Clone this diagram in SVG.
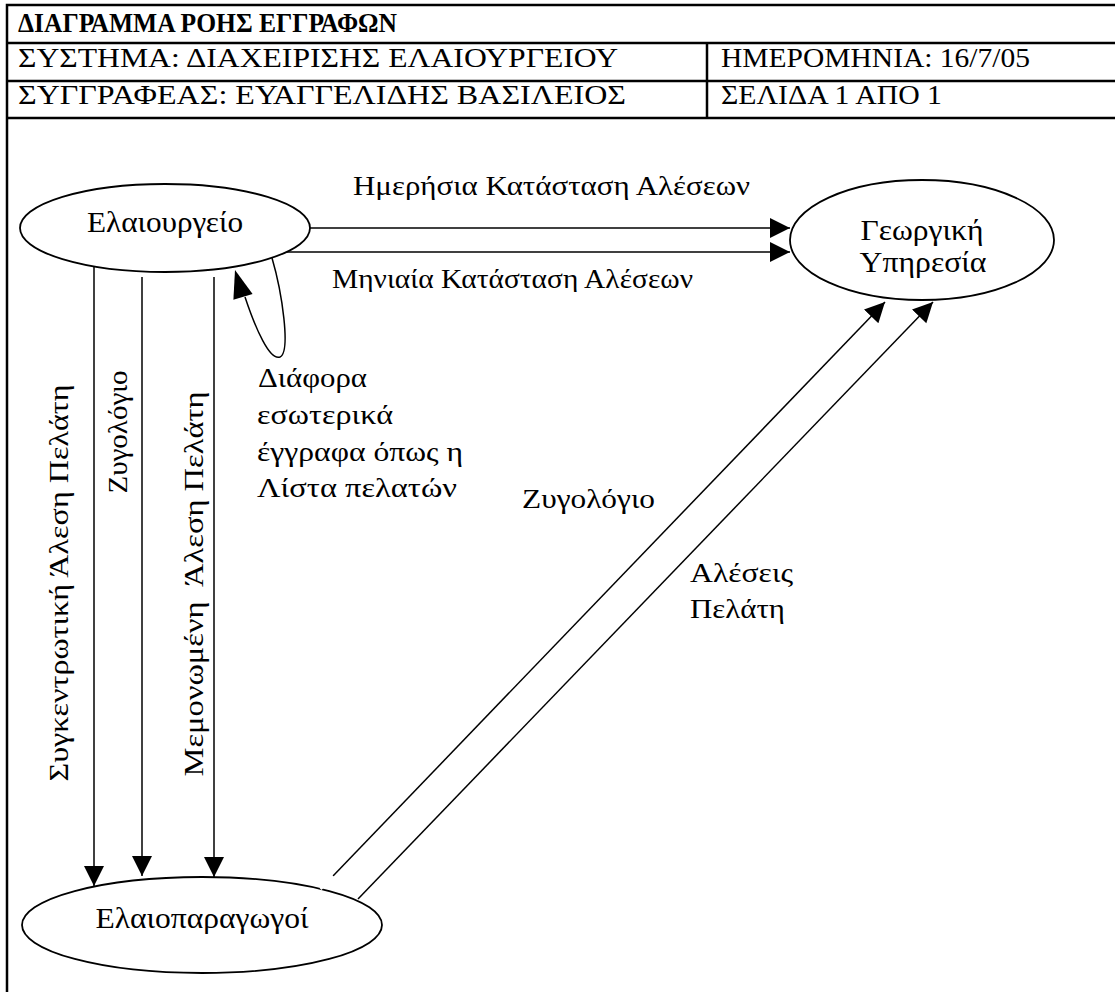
<svg xmlns="http://www.w3.org/2000/svg" width="1115" height="992" viewBox="0 0 1115 992">
  <style>
    text { font-family: "Liberation Serif", "Times New Roman", serif; fill: #000; }
    .ttl { font-size: 27px; font-weight: bold; }
    .hd { font-size: 27px; }
    .lbl { font-size: 27px; }
    .nd { font-size: 30px; }
    .frame { stroke: #000; stroke-width: 2.5; fill: none; }
    .node ellipse { fill: #fff; stroke: #000; stroke-width: 1.8; }
    .edge { stroke: #000; stroke-width: 1.5; fill: none; }
  </style>
  <defs>
    <marker id="arrow" markerUnits="userSpaceOnUse" markerWidth="21" markerHeight="21" refX="20" refY="10" orient="auto">
      <path d="M0,0 L20,10 L0,20 z" fill="#000"/>
    </marker>
    <clipPath id="clipTop"><rect x="300" y="150" width="500" height="50"/></clipPath>
    <clipPath id="clipBottom"><rect x="300" y="250" width="500" height="42"/></clipPath>
  </defs>

  <rect width="1115" height="992" fill="#fff"/>

  <!-- header table -->
  <g id="header">
    <path class="frame" d="M7,992 V5 H1115 M7,43 H1115 M7,81 H1115 M7,118 H1115 M707,43 V118"/>
    <text class="ttl" x="18" y="32" textLength="379" lengthAdjust="spacingAndGlyphs">ΔΙΑΓΡΑΜΜΑ ΡΟΗΣ ΕΓΓΡΑΦΩΝ</text>
    <text class="hd" x="18" y="67" textLength="600" lengthAdjust="spacingAndGlyphs">ΣΥΣΤΗΜΑ: ΔΙΑΧΕΙΡΙΣΗΣ ΕΛΑΙΟΥΡΓΕΙΟΥ</text>
    <text class="hd" x="18" y="104" textLength="608" lengthAdjust="spacingAndGlyphs">ΣΥΓΓΡΑΦΕΑΣ: ΕΥΑΓΓΕΛΙΔΗΣ ΒΑΣΙΛΕΙΟΣ</text>
    <text class="hd" x="721" y="67" textLength="309" lengthAdjust="spacingAndGlyphs">ΗΜΕΡΟΜΗΝΙΑ: 16/7/05</text>
    <text class="hd" x="721" y="104" textLength="221" lengthAdjust="spacingAndGlyphs">ΣΕΛΙΔΑ 1 ΑΠΟ 1</text>
  </g>

  <!-- connectors -->
  <g id="connectors">
    <!-- Ελαιουργείο to Γεωργική Υπηρεσία -->
    <line class="edge" x1="310" y1="228" x2="790" y2="228" marker-end="url(#arrow)"/>
    <line class="edge" x1="287" y1="252" x2="790" y2="252" marker-end="url(#arrow)"/>
    <text class="lbl" x="353" y="195" textLength="397" lengthAdjust="spacingAndGlyphs" clip-path="url(#clipTop)">Ημερήσια Κατάσταση Αλέσεων</text>
    <text class="lbl" x="332" y="288" textLength="361" lengthAdjust="spacingAndGlyphs" clip-path="url(#clipBottom)">Μηνιαία Κατάσταση Αλέσεων</text>

    <!-- Ελαιουργείο to itself -->
    <path class="edge" d="M272,258 C282,292 291,352 280,357 C270,361 256,330 245,297"/>
    <polygon points="235,270 252.6,294 233.4,299.7" fill="#000"/>
    <text class="lbl" x="258" y="387" textLength="109" lengthAdjust="spacingAndGlyphs">Διάφορα</text>
    <text class="lbl" x="257" y="424" textLength="136" lengthAdjust="spacingAndGlyphs">εσωτερικά</text>
    <text class="lbl" x="257" y="461" textLength="206" lengthAdjust="spacingAndGlyphs">έγγραφα όπως η</text>
    <text class="lbl" x="257" y="497" textLength="200" lengthAdjust="spacingAndGlyphs">Λίστα πελατών</text>

    <!-- Ελαιουργείο to Ελαιοπαραγωγοί -->
    <line class="edge" x1="94" y1="265" x2="94" y2="886" marker-end="url(#arrow)"/>
    <line class="edge" x1="142" y1="277" x2="142" y2="876" marker-end="url(#arrow)"/>
    <line class="edge" x1="214" y1="277" x2="214" y2="877" marker-end="url(#arrow)"/>
    <text class="lbl" text-anchor="middle" transform="translate(68,583) rotate(-90)" textLength="397" lengthAdjust="spacingAndGlyphs">Συγκεντρωτική Άλεση Πελάτη</text>
    <text class="lbl" text-anchor="middle" transform="translate(127,432) rotate(-90)" textLength="123" lengthAdjust="spacingAndGlyphs">Ζυγολόγιο</text>
    <text class="lbl" text-anchor="middle" transform="translate(203,584) rotate(-90)" textLength="385" lengthAdjust="spacingAndGlyphs" xml:space="preserve">Μεμονωμένη  Άλεση Πελάτη</text>

    <!-- Ελαιοπαραγωγοί to Γεωργική Υπηρεσία -->
    <line class="edge" x1="333" y1="876" x2="885" y2="302" marker-end="url(#arrow)"/>
    <line class="edge" x1="358" y1="899" x2="933" y2="302" marker-end="url(#arrow)"/>
    <text class="lbl" x="522" y="508" textLength="133" lengthAdjust="spacingAndGlyphs">Ζυγολόγιο</text>
    <text class="lbl" x="690" y="582" textLength="103" lengthAdjust="spacingAndGlyphs">Αλέσεις</text>
    <text class="lbl" x="690" y="618" textLength="95" lengthAdjust="spacingAndGlyphs">Πελάτη</text>
  </g>

  <!-- nodes -->
  <g id="node-elaiourgeio" class="node">
    <ellipse cx="165" cy="228" rx="145" ry="44"/>
    <text class="nd" x="165" y="232" text-anchor="middle" textLength="156" lengthAdjust="spacingAndGlyphs">Ελαιουργείο</text>
  </g>
  <g id="node-georgiki" class="node">
    <ellipse cx="922" cy="240" rx="132" ry="60"/>
    <text class="nd" x="922" y="240" text-anchor="middle" textLength="123" lengthAdjust="spacingAndGlyphs">Γεωργική</text>
    <text class="nd" x="923" y="272" text-anchor="middle" textLength="127" lengthAdjust="spacingAndGlyphs">Υπηρεσία</text>
  </g>
  <g id="node-elaioparagogoi" class="node">
    <ellipse cx="202" cy="925" rx="180" ry="48"/>
    <text class="nd" x="202" y="928" text-anchor="middle" textLength="213" lengthAdjust="spacingAndGlyphs">Ελαιοπαραγωγοί</text>
  </g>

  <!-- white break where the upper diagonal crosses the Ελαιοπαραγωγοί outline -->
  <line x1="333" y1="876" x2="315" y2="895" stroke="#fff" stroke-width="2.5" stroke-dasharray="7 4"/>
</svg>
